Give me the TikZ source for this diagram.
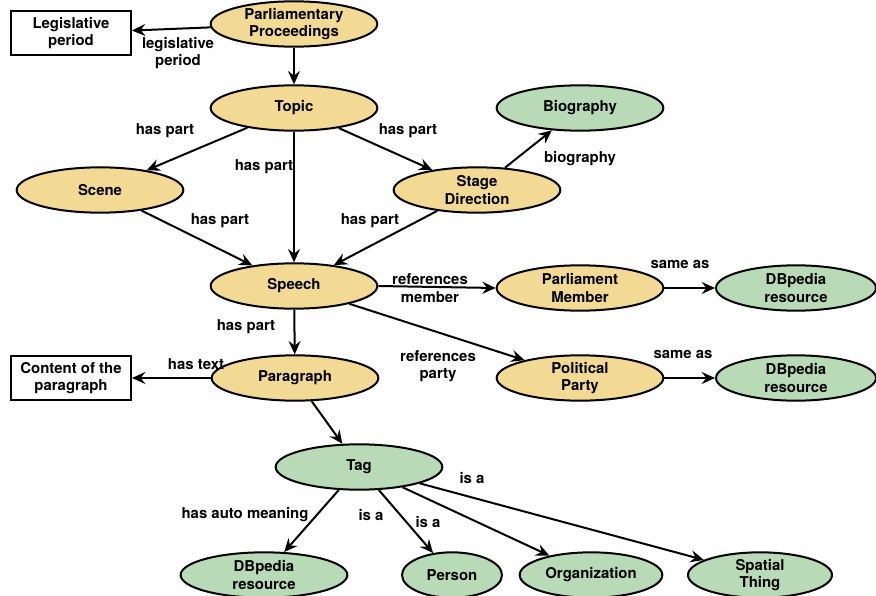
\documentclass[tikz,border=0pt]{standalone}
\usepackage{fontspec}
\setmainfont{TeX Gyre Heros}
\usetikzlibrary{shapes.geometric,arrows.meta}
\definecolor{yel}{HTML}{F3DA94}
\definecolor{grn}{HTML}{B9DAB7}
\tikzset{
  base/.style={draw=black,line width=1.5pt,align=center,inner sep=0pt,font=\fontsize{11.2}{13}\selectfont\bfseries},
  yell/.style={base,ellipse,fill=yel,minimum width=125pt,minimum height=34pt},
  gree/.style={base,ellipse,fill=grn,minimum width=125pt,minimum height=34pt},
  boxx/.style={base,rectangle,fill=white,minimum width=90pt,minimum height=33pt},
  lbl/.style={align=center,inner sep=0pt,font=\fontsize{11.2}{13}\selectfont\bfseries},
  arr/.style={line width=1.5pt,-{Stealth[length=10pt,width=9pt,inset=3.5pt]}},
}
\begin{document}
\begin{tikzpicture}[x=0.75pt,y=-0.75pt]
\useasboundingbox (0,0) rectangle (876,596);
% nodes
\node[yell] (pp) at (294,24) {Parliamentary\\Proceedings};
\node[boxx] (lp) at (71,33) {Legislative\\period};
\node[yell] (topic) at (294,108) {Topic};
\node[gree] (bio) at (580,108) {Biography};
\node[yell] (scene) at (100,190) {Scene};
\node[yell] (stage) at (477,190) {Stage\\Direction};
\node[yell] (speech) at (294,286) {Speech};
\node[yell] (pm) at (580,288) {Parliament\\Member};
\node[gree,minimum width=120pt] (db1) at (796,288) {DBpedia\\resource};
\node[boxx] (cp) at (71,378) {Content of the\\paragraph};
\node[yell] (para) at (295,378) {Paragraph};
\node[yell] (party) at (580,378) {Political\\Party};
\node[gree,minimum width=120pt] (db2) at (796,378) {DBpedia\\resource};
\node[gree] (tag) at (359,467) {Tag};
\node[gree] (db3) at (264,575) {DBpedia\\resource};
\node[gree,minimum width=75pt] (person) at (452,575) {Person};
\node[gree,minimum width=107pt] (org) at (591,575) {Organization};
\node[gree,minimum width=108pt] (spat) at (760,575) {Spatial\\Thing};
% labels
\node[lbl] (l1) at (178,53) {legislative\\period};
\node[lbl] (l2) at (165,131) {has part};
\node[lbl] (l3) at (264,167) {has part};
\node[lbl] (l4) at (408,131) {has part};
\node[lbl] (l5) at (580,159) {biography};
\node[lbl] (l6) at (220,221) {has part};
\node[lbl] (l7) at (370,221) {has part};
\node[lbl] (l8) at (430,288) {references\\member};
\node[lbl] (l9) at (438,366) {references\\party};
\node[lbl] (l10) at (246,327) {has part};
\node[lbl] (l11) at (196,364) {has text};
\node[lbl] (l12) at (680,264) {same as};
\node[lbl] (l13) at (683,354) {same as};
\node[lbl] (l14) at (245,515) {has auto meaning};
\node[lbl] (l15) at (371,515) {is a};
\node[lbl] (l16) at (428,522) {is a};
\node[lbl] (l17) at (472,478) {is a};
% edges
\draw[arr] (pp) -- (lp);
\draw[arr] (pp) -- (topic);
\draw[arr] (topic) -- (scene);
\draw[arr] (topic) -- (speech);
\draw[arr] (topic) -- (stage);
\draw[arr] (stage) -- (bio);
\draw[arr] (scene) -- (speech);
\draw[arr] (stage) -- (speech);
\draw[arr] (speech.east) -- (pm.west);
\draw[arr] (speech) -- (party);
\draw[arr] (speech) -- (para);
\draw[arr] (para) -- (cp);
\draw[arr] (para) -- (tag);
\draw[arr] (pm) -- (db1);
\draw[arr] (party) -- (db2);
\draw[arr] (tag) -- (db3);
\draw[arr] (tag) -- (person);
\draw[arr] (tag) -- (org);
\draw[arr] (tag) -- (spat);
\end{tikzpicture}
\end{document}
